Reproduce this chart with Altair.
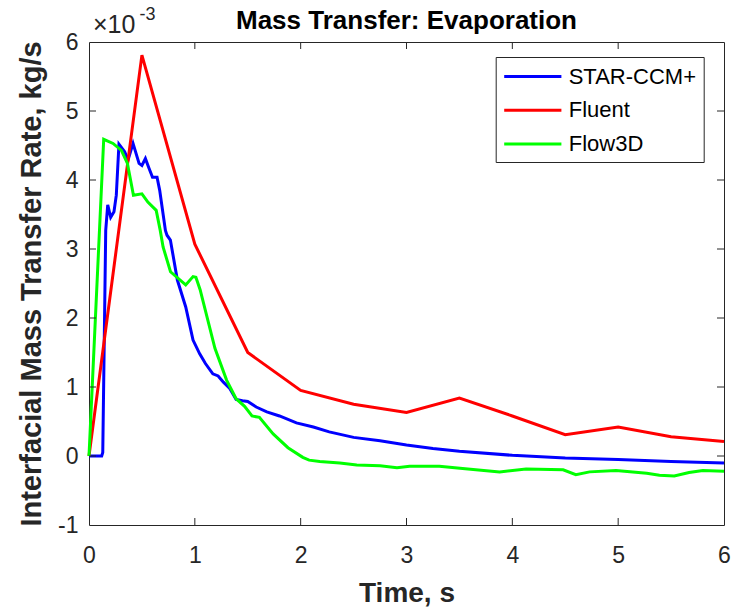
import altair as alt
import pandas as pd

# ---------------- data (values in units of 1e-3 kg/s) ----------------
series_names = ["STAR-CCM+", "Fluent", "Flow3D"]
series_colors = ["#0000ff", "#ff0000", "#00ff00"]

star_t = [0, 0.05, 0.12, 0.13, 0.158, 0.177, 0.205, 0.236, 0.258, 0.283, 0.337,
          0.369, 0.416, 0.473, 0.50, 0.533, 0.567, 0.60, 0.643, 0.668, 0.722,
          0.737, 0.769, 0.835, 0.914, 0.983, 1.046, 1.10, 1.17, 1.22, 1.27,
          1.33, 1.39, 1.45, 1.50, 1.58, 1.68, 1.80, 1.96, 2.12, 2.27, 2.50,
          2.75, 3.0, 3.25, 3.5, 4.0, 4.5, 5.0, 5.5, 6.0]
star_v = [0, 0, 0.0, 0.05, 3.27, 3.64, 3.46, 3.54, 3.78, 4.52, 4.41,
          4.29, 4.53, 4.24, 4.21, 4.31, 4.17, 4.04, 4.04, 3.85, 3.27,
          3.20, 3.13, 2.55, 2.16, 1.68, 1.48, 1.34, 1.19, 1.16, 1.07,
          0.98, 0.82, 0.80, 0.79, 0.71, 0.64, 0.58, 0.48, 0.42, 0.35, 0.27,
          0.22, 0.16, 0.11, 0.07, 0.01, -0.03, -0.05, -0.08, -0.10]

fluent_t = [0, 0.5, 1.0, 1.5, 2.0, 2.5, 3.0, 3.5, 4.0, 4.5, 5.0, 5.5, 6.0]
fluent_v = [0, 5.81, 3.07, 1.50, 0.95, 0.75, 0.63, 0.84, 0.58, 0.31, 0.42, 0.28, 0.21]

flow_t = [0, 0.139, 0.227, 0.306, 0.363, 0.42, 0.50, 0.556, 0.635, 0.673, 0.70,
          0.77, 0.914, 0.983, 1.01, 1.05, 1.19, 1.30, 1.39, 1.47, 1.54, 1.61,
          1.74, 1.88, 2.02, 2.08, 2.18, 2.37, 2.53, 2.75, 2.91, 3.03, 3.31,
          3.53, 3.88, 4.13, 4.48, 4.60, 4.73, 4.98, 5.27, 5.39, 5.53, 5.67,
          5.80, 6.0]
flow_v = [0, 4.59, 4.53, 4.43, 4.24, 3.78, 3.80, 3.68, 3.56, 3.27, 3.03,
          2.67, 2.48, 2.60, 2.59, 2.41, 1.56, 1.10, 0.83, 0.72, 0.58, 0.56,
          0.32, 0.12, -0.02, -0.06, -0.08, -0.10, -0.13, -0.14, -0.17, -0.15, -0.15,
          -0.18, -0.23, -0.19, -0.20, -0.27, -0.23, -0.21, -0.25, -0.28, -0.29, -0.24,
          -0.21, -0.22]

x_ticks = [0, 1, 2, 3, 4, 5, 6]
y_ticks = [-1, 0, 1, 2, 3, 4, 5, 6]
exponent_base = "×10"
exponent_power = "-3"

# ---------------- build table ----------------
rows = []
for name, ts, vs in [(series_names[0], star_t, star_v),
                     (series_names[1], fluent_t, fluent_v),
                     (series_names[2], flow_t, flow_v)]:
    for i, (t, v) in enumerate(zip(ts, vs)):
        rows.append({"series": name, "t": t, "v": v, "i": i})
df = pd.DataFrame(rows)

W, H = 635, 483
FONT = "Liberation Sans"
AX = "#262626"

xscale = alt.Scale(domain=[0, 6], nice=False, zero=False)
yscale = alt.Scale(domain=[-1, 6], nice=False, zero=False)

lines = alt.Chart(df).mark_line(strokeWidth=3).encode(
    x=alt.X("t:Q", scale=xscale, axis=alt.Axis(
        values=x_ticks, labelExpr="toString(datum.value)", title="Time, s",
        titleFont=FONT, titleFontSize=28, titleFontWeight="bold", titleColor=AX,
        titleX=W / 2, titleY=76, titleBaseline="alphabetic", titleAlign="center",
        labelFont=FONT, labelFontSize=23, labelColor=AX, labelPadding=37,
        labelBaseline="alphabetic", labelFlush=False,
        ticks=False, tickSize=0, domain=False, grid=False)),
    y=alt.Y("v:Q", scale=yscale, axis=alt.Axis(
        values=y_ticks, labelExpr="toString(datum.value)",
        title="Interfacial Mass Transfer Rate, kg/s",
        titleFont=FONT, titleFontSize=29, titleFontWeight="bold", titleColor=AX,
        titleX=-48.6, titleY=H / 2, titleAngle=270, titleBaseline="alphabetic",
        titleAlign="center",
        labelFont=FONT, labelFontSize=23, labelColor=AX, labelPadding=11,
        labelBaseline="middle", labelFlush=False,
        ticks=False, tickSize=0, domain=False, grid=False)),
    color=alt.Color("series:N",
                    scale=alt.Scale(domain=series_names, range=series_colors),
                    legend=alt.Legend(
                        orient="none", legendX=406.7, legendY=15, title=None,
                        symbolType="M-1,0H4.2", symbolSize=484, symbolStrokeWidth=3,
                        labelFont=FONT, labelFontSize=22, labelColor="#000000",
                        strokeColor=AX, fillColor="white", padding=7,
                        rowPadding=9.7, labelOffset=41, cornerRadius=0)),
    order="i:Q",
)

xt = pd.DataFrame({"t": x_ticks[1:-1]})
yt = pd.DataFrame({"v": y_ticks[1:-1]})

tick_bottom = alt.Chart(xt).mark_rule(color=AX, strokeWidth=1).encode(
    x=alt.X("t:Q", scale=xscale), y=alt.value(H), y2=alt.value(H - 7))
tick_top = alt.Chart(xt).mark_rule(color=AX, strokeWidth=1).encode(
    x=alt.X("t:Q", scale=xscale), y=alt.value(0), y2=alt.value(7))
tick_left = alt.Chart(yt).mark_rule(color=AX, strokeWidth=1).encode(
    y=alt.Y("v:Q", scale=yscale), x=alt.value(0), x2=alt.value(7))
tick_right = alt.Chart(yt).mark_rule(color=AX, strokeWidth=1).encode(
    y=alt.Y("v:Q", scale=yscale), x=alt.value(W), x2=alt.value(W - 7))

exp_base = alt.Chart(pd.DataFrame({"s": [exponent_base]})).mark_text(
    font=FONT, fontSize=25, color=AX, align="left", baseline="alphabetic"
).encode(x=alt.value(4), y=alt.value(-8.7), text="s:N")
exp_pow = alt.Chart(pd.DataFrame({"s": [exponent_power]})).mark_text(
    font=FONT, fontSize=18, color=AX, align="left", baseline="alphabetic"
).encode(x=alt.value(50.5), y=alt.value(-21.7), text="s:N")

chart = alt.layer(
    lines, tick_bottom, tick_top, tick_left, tick_right, exp_base, exp_pow
).properties(
    width=W, height=H,
    title=alt.TitleParams("Mass Transfer: Evaporation", font=FONT, fontSize=26,
                          fontWeight="bold", color="#000000", anchor="middle",
                          baseline="alphabetic", offset=0, dy=49),
    autosize=alt.AutoSizeParams(type="none"),
    padding={"left": 89, "top": 42, "right": 21, "bottom": 82},
    background="white",
).configure_view(stroke=AX, strokeWidth=1)

chart.save("out.html", embed_options={"renderer": "svg", "actions": False})
